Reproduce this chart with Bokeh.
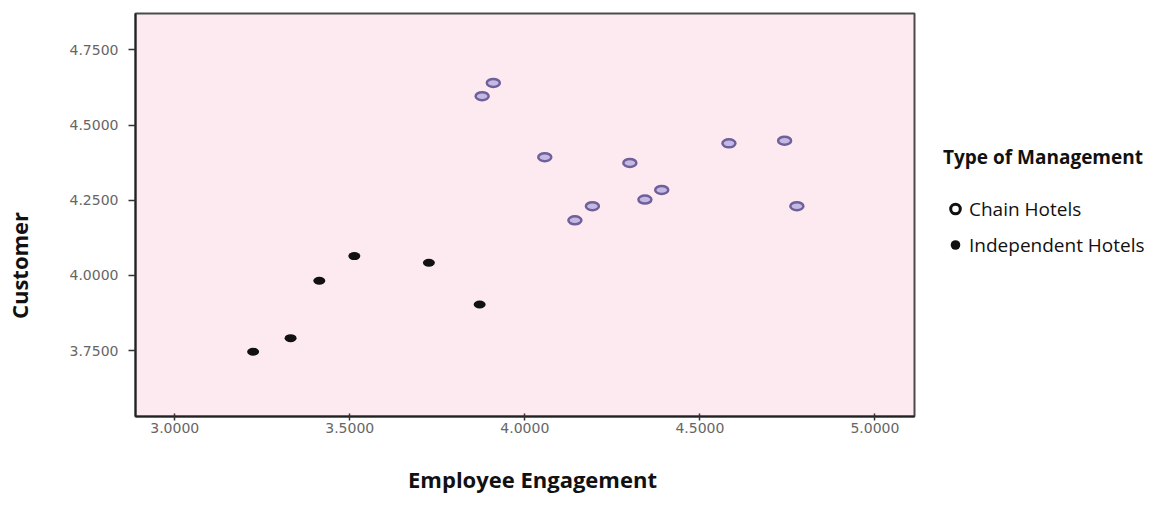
from math import pi
from bokeh.plotting import figure
from bokeh.layouts import row, column
from bokeh.models import (FixedTicker, NumeralTickFormatter, Range1d, ColumnDataSource,
                          Legend, LegendItem, Label)
from bokeh.embed import file_html
from bokeh.resources import INLINE

# ---- data ----
chain_x = [3.910, 3.878, 4.057, 4.300, 4.583, 4.742, 4.391, 4.343, 4.193, 4.143, 4.777]
chain_y = [4.640, 4.596, 4.393, 4.374, 4.439, 4.448, 4.284, 4.252, 4.230, 4.183, 4.230]
indep_x = [3.224, 3.331, 3.413, 3.513, 3.726, 3.871]
indep_y = [3.746, 3.791, 3.982, 4.064, 4.042, 3.903]

x_ticks = [3.0, 3.5, 4.0, 4.5, 5.0]
y_ticks = [3.75, 4.0, 4.25, 4.5, 4.75]

x_title = "Employee Engagement"
y_title = "Customer"
legend_title = "Type of Management"
series_names = ["Chain Hotels", "Independent Hotels"]

# ---- layout ----
X0, X1 = 2.888, 5.113
Y0, Y1 = 3.5305, 4.871
TOTAL_W, TOTAL_H = 1151, 496
TOP_H = 440          # row with the chart
BOT_H = TOTAL_H - TOP_H
LEFT_W = 40          # strip holding the vertical title
MAIN_W = 900         # main chart
LEG_W = TOTAL_W - LEFT_W - MAIN_W
FL, FR, FT, FB = 135, 914, 13, 416  # frame edges in page pixels
font = "Open Sans"

# left strip with the y title (data units = page pixels)
left = figure(width=LEFT_W, height=TOP_H, output_backend="svg", toolbar_location=None,
              x_range=Range1d(0, LEFT_W), y_range=Range1d(FB, FT),
              x_axis_location=None, y_axis_location=None,
              min_border=0, outline_line_color=None)
left.grid.visible = False
left.add_layout(Label(x=18, y=265, text=y_title, angle=pi / 2, text_align="center",
                      text_baseline="middle", text_font=font, text_font_style="bold",
                      text_font_size="22px", text_color="#111111"))

# main chart
p = figure(width=MAIN_W, height=TOP_H, output_backend="svg", toolbar_location=None,
           x_range=Range1d(X0, X1), y_range=Range1d(Y0, Y1),
           min_border_left=FL - LEFT_W, min_border_top=FT,
           min_border_right=LEFT_W + MAIN_W - FR, min_border_bottom=TOP_H - FB)
p.background_fill_color = "#fdeaf0"
p.border_fill_color = "white"
p.outline_line_color = "#4a4a4a"
p.outline_line_width = 2
p.grid.visible = False

for ax in (p.xaxis[0], p.yaxis[0]):
    ax.formatter = NumeralTickFormatter(format="0.0000")
    ax.minor_tick_line_color = None
    ax.axis_line_color = "#222222"
    ax.axis_line_width = 2
    ax.major_tick_line_color = "#333333"
    ax.major_tick_line_width = 1.5
    ax.major_label_text_font = "DejaVu Sans"
    ax.major_label_text_font_size = "14px"
    ax.major_label_text_color = "#666666"

p.xaxis[0].ticker = FixedTicker(ticks=x_ticks)
p.yaxis[0].ticker = FixedTicker(ticks=y_ticks)
p.xaxis[0].major_tick_out = 4
p.xaxis[0].major_tick_in = 3
p.xaxis[0].major_label_standoff = 2
p.yaxis[0].major_tick_out = 7
p.yaxis[0].major_tick_in = 0
p.yaxis[0].major_label_standoff = 10

chain_src = ColumnDataSource(dict(x=chain_x, y=chain_y))
indep_src = ColumnDataSource(dict(x=indep_x, y=indep_y))
p.ellipse("x", "y", source=chain_src, width=13, height=8, width_units="screen",
          height_units="screen", fill_color="#c4b9e2", line_color="#6f5f9a", line_width=2.5)
p.ellipse("x", "y", source=indep_src, width=12, height=8, width_units="screen",
          height_units="screen", fill_color="#111111", line_color=None)

# legend strip
LEG_X = 943 - (LEFT_W + MAIN_W)
lg = figure(width=LEG_W, height=TOP_H, output_backend="svg", toolbar_location=None,
            x_range=Range1d(0, 1), y_range=Range1d(0, 1),
            x_axis_location=None, y_axis_location=None,
            min_border_left=LEG_X, min_border_top=FT, min_border_right=0,
            min_border_bottom=TOP_H - FB, outline_line_color=None)
lg.grid.visible = False
nan = float("nan")
leg_chain = lg.scatter(x=[nan], y=[nan], marker="circle", size=11, fill_color=None,
                       line_color="#111111", line_width=3)
leg_indep = lg.scatter(x=[nan], y=[nan], marker="circle", size=10, fill_color="#111111",
                       line_color=None)
legend = Legend(items=[LegendItem(label=series_names[0], renderers=[leg_chain]),
                       LegendItem(label=series_names[1], renderers=[leg_indep])],
                title=legend_title, location=(0, 155), orientation="vertical",
                margin=0, padding=0, spacing=3,
                glyph_width=24, glyph_height=33, label_height=33, label_standoff=2,
                label_text_font=font, label_text_font_size="19px",
                label_text_color="#111111",
                title_text_font=font, title_text_font_style="bold",
                title_text_font_size="19px", title_text_color="#111111",
                title_standoff=22,
                border_line_color=None, background_fill_alpha=0)
lg.add_layout(legend)

# bottom strip with the x title (data units = page pixels)
bottom = figure(width=TOTAL_W, height=BOT_H, output_backend="svg", toolbar_location=None,
                x_range=Range1d(0, TOTAL_W), y_range=Range1d(TOTAL_H, TOP_H),
                x_axis_location=None, y_axis_location=None,
                min_border=0, outline_line_color=None)
bottom.grid.visible = False
bottom.add_layout(Label(x=532, y=478, text=x_title, text_align="center",
                        text_baseline="alphabetic", text_font=font, text_font_style="bold",
                        text_font_size="22px", text_color="#111111"))

open("out.html", "w").write(file_html(column(row(left, p, lg), bottom), INLINE))
